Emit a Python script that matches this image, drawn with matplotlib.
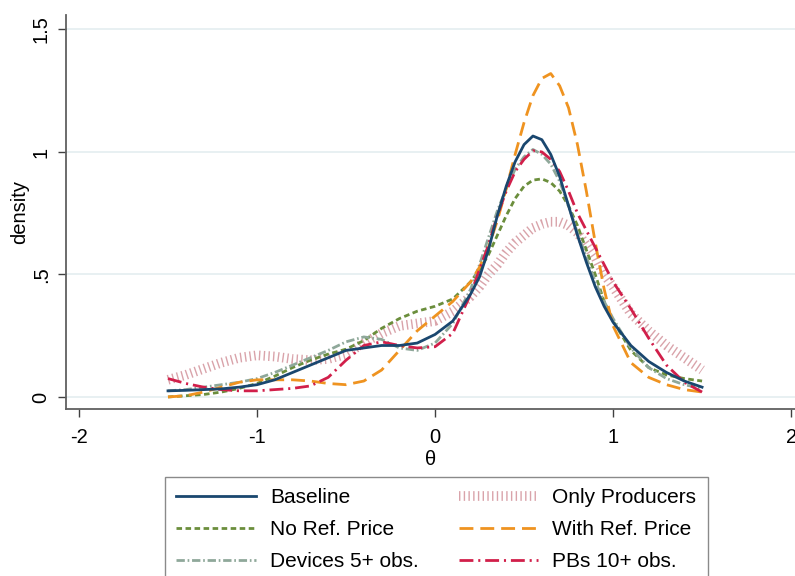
import matplotlib
matplotlib.use("Agg")
import matplotlib.pyplot as plt
from matplotlib.lines import Line2D

plt.rcParams['font.family'] = ['Liberation Sans', 'DejaVu Sans']
plt.rcParams['axes.unicode_minus'] = False
plt.rcParams['lines.scale_dashes'] = False

# === data ===
theta = [-1.5, -1.4, -1.3, -1.2, -1.1, -1.0, -0.9, -0.8, -0.7, -0.6, -0.5, -0.4,
         -0.3, -0.2, -0.1, 0.0, 0.1, 0.2, 0.25, 0.3, 0.35, 0.4, 0.45, 0.5, 0.55,
         0.6, 0.65, 0.7, 0.75, 0.8, 0.85, 0.9, 0.95, 1.0, 1.1, 1.2, 1.3, 1.4, 1.5]

baseline = [0.025, 0.027, 0.03, 0.033, 0.04, 0.05, 0.07, 0.10, 0.13, 0.16, 0.19, 0.20,
            0.21, 0.21, 0.22, 0.255, 0.31, 0.42, 0.49, 0.60, 0.74, 0.86, 0.96, 1.03, 1.065,
            1.05, 0.99, 0.90, 0.78, 0.66, 0.55, 0.45, 0.37, 0.305, 0.21, 0.145, 0.10, 0.065, 0.04]

no_ref = [0.0, 0.005, 0.01, 0.02, 0.035, 0.055, 0.085, 0.12, 0.15, 0.175, 0.195, 0.23,
          0.28, 0.32, 0.35, 0.37, 0.40, 0.47, 0.52, 0.58, 0.66, 0.74, 0.81, 0.86, 0.885,
          0.89, 0.875, 0.84, 0.78, 0.70, 0.60, 0.50, 0.39, 0.31, 0.19, 0.12, 0.09, 0.075, 0.065]

devices5 = [0.025, 0.03, 0.04, 0.05, 0.06, 0.075, 0.10, 0.13, 0.16, 0.19, 0.225, 0.245,
            0.235, 0.20, 0.19, 0.22, 0.30, 0.44, 0.54, 0.65, 0.76, 0.85, 0.93, 0.98, 1.01,
            0.99, 0.95, 0.88, 0.78, 0.67, 0.57, 0.47, 0.39, 0.32, 0.20, 0.12, 0.075, 0.05, 0.035]

only_prod = [0.07, 0.09, 0.115, 0.14, 0.16, 0.17, 0.165, 0.155, 0.15, 0.155, 0.175, 0.22,
             0.26, 0.29, 0.30, 0.31, 0.35, 0.41, 0.45, 0.50, 0.54, 0.59, 0.63, 0.66, 0.69,
             0.705, 0.715, 0.715, 0.70, 0.67, 0.62, 0.57, 0.50, 0.45, 0.34, 0.27, 0.21, 0.16, 0.11]

with_ref = [0.0, 0.005, 0.02, 0.04, 0.06, 0.07, 0.07, 0.07, 0.065, 0.055, 0.05, 0.065,
            0.11, 0.19, 0.27, 0.33, 0.39, 0.47, 0.53, 0.61, 0.72, 0.85, 0.99, 1.12, 1.23,
            1.30, 1.32, 1.27, 1.18, 1.03, 0.84, 0.63, 0.44, 0.29, 0.14, 0.08, 0.05, 0.03, 0.02]

pbs10 = [0.075, 0.055, 0.04, 0.03, 0.025, 0.025, 0.03, 0.035, 0.045, 0.08, 0.15, 0.21,
         0.225, 0.21, 0.20, 0.205, 0.26, 0.42, 0.52, 0.62, 0.74, 0.84, 0.92, 0.97, 1.005,
         1.0, 0.97, 0.92, 0.84, 0.75, 0.68, 0.61, 0.54, 0.47, 0.36, 0.24, 0.13, 0.06, 0.02]

yticks = [0, 0.5, 1, 1.5]
ytick_labels = ['0', '.5', '1', '1.5']
xticks = [-2, -1, 0, 1, 2]
xtick_labels = ['-2', '-1', '0', '1', '2']

# === styles ===
styles = {
    'Baseline':          dict(color='#1a476f', lw=2.0, ls='-'),
    'No Ref. Price':     dict(color='#6b8e3c', lw=2.0, dashes=[4, 2.5]),
    'Devices 5+ obs.':   dict(color='#8fa89a', lw=2.0, dashes=[6, 2, 1.2, 2]),
    'Only Producers':    dict(color='#d9a3aa', lw=7.0, dashes=[1.0, 2.4], solid_capstyle='butt',
                              dash_capstyle='butt'),
    'With Ref. Price':   dict(color='#ef9320', lw=2.0, dashes=[10, 5]),
    'PBs 10+ obs.':      dict(color='#d11f4a', lw=2.0, dashes=[10, 3.5, 1.5, 3.5]),
}

FS = 14.5

fig = plt.figure(figsize=(7.95, 5.76), dpi=100)
ax = fig.add_axes([0.083, 0.29, 0.917, 0.684])

for y in yticks:
    ax.axhline(y, color='#e4edf0', lw=1.2, zorder=0)

ax.plot(theta, only_prod, **styles['Only Producers'], zorder=1)
ax.plot(theta, no_ref, **styles['No Ref. Price'], zorder=2)
ax.plot(theta, devices5, **styles['Devices 5+ obs.'], zorder=2)
ax.plot(theta, with_ref, **styles['With Ref. Price'], zorder=3)
ax.plot(theta, pbs10, **styles['PBs 10+ obs.'], zorder=3)
ax.plot(theta, baseline, **styles['Baseline'], zorder=4)

ax.set_xlim(-2.073, 2.022)
ax.set_ylim(-0.049, 1.559)
ax.set_xticks(xticks)
ax.set_xticklabels(xtick_labels)
ax.set_yticks(yticks)
ax.set_yticklabels(ytick_labels, rotation=90, va='center')

for s in ['top', 'right']:
    ax.spines[s].set_visible(False)
for s in ['left', 'bottom']:
    ax.spines[s].set_color('#606060')
    ax.spines[s].set_linewidth(1.3)
ax.tick_params(axis='both', length=6, width=1.0, color='#404040', labelsize=FS)
ax.tick_params(axis='y', pad=5)
ax.tick_params(axis='x', pad=8)

ax.set_xlabel('θ', fontsize=FS, labelpad=2)
ax.set_ylabel('density', fontsize=FS, labelpad=2)

# legend, row-wise order with 2 columns
order = ['Baseline', 'No Ref. Price', 'Devices 5+ obs.',
         'Only Producers', 'With Ref. Price', 'PBs 10+ obs.']
handles = [Line2D([0], [0], **styles[k]) for k in order]
leg = fig.legend(handles, order, ncol=2, loc='upper left',
                 bbox_to_anchor=(0.2075, 0.172), bbox_transform=fig.transFigure,
                 borderaxespad=0, fontsize=15, handlelength=3.8, handletextpad=0.7,
                 columnspacing=1.9, labelspacing=0.62, borderpad=0.55,
                 fancybox=False, framealpha=1, edgecolor='#8a8a8a')
leg.get_frame().set_linewidth(1.0)

fig.savefig('out.png', dpi=100)
